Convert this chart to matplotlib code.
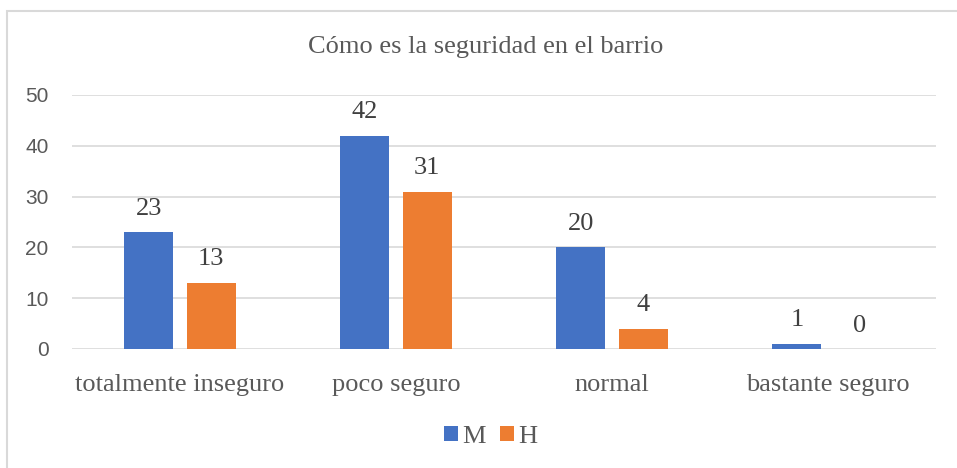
import matplotlib
matplotlib.use("Agg")
import matplotlib.pyplot as plt
import numpy as np
from matplotlib.patches import Rectangle

categories = ["totalmente inseguro", "poco seguro", "normal", "bastante seguro"]
series_names = ["M", "H"]
values_M = [23, 42, 20, 1]
values_H = [13, 31, 4, 0]
y_ticks = [0, 10, 20, 30, 40, 50]
title = "Cómo es la seguridad en el barrio"

colors = ["#4472C4", "#ED7D31"]
serif = ["Liberation Serif", "DejaVu Serif"]
sans = ["Liberation Sans", "DejaVu Sans"]

W, H = 957, 468
fig = plt.figure(figsize=(W / 100, H / 100), dpi=100)
fig.patch.set_facecolor("white")

# chart border (only top and left visible in reference)
fig.add_artist(Rectangle((7 / W, -0.1), 1.2, (H - 11) / H + 0.1,
                         transform=fig.transFigure, fill=False,
                         edgecolor="#D9D9D9", linewidth=1.5, clip_on=False))

ax = fig.add_axes([72 / W, (H - 349) / H, (936 - 72) / W, (349 - 95) / H])
x = np.arange(len(categories))
bw = 0.227
off = 0.144
b1 = ax.bar(x - off, values_M, bw, color=colors[0], label=series_names[0], zorder=3)
b2 = ax.bar(x + off, values_H, bw, color=colors[1], label=series_names[1], zorder=3)

for bars, vals in ((b1, values_M), (b2, values_H)):
    for rect, v in zip(bars, vals):
        ax.annotate(str(v), (rect.get_x() + rect.get_width() / 2, v),
                    xytext=(0, 9), textcoords="offset points",
                    ha="center", va="bottom", fontsize=19,
                    family=serif, color="#404040")

ax.set_xlim(-0.5, len(categories) - 0.5)
ax.set_ylim(0, 50)
ax.set_yticks(y_ticks)
ax.set_xticks(x)
ax.set_xticklabels(categories, family=serif, fontsize=19, color="#595959")
for lab in ax.get_yticklabels():
    lab.set_family(sans)
    lab.set_fontsize(15)
    lab.set_color("#595959")
ax.tick_params(axis="y", length=0, pad=17)
ax.tick_params(axis="x", length=0, pad=18)
for s in ax.spines.values():
    s.set_visible(False)
ax.yaxis.grid(True, color="#D9D9D9", linewidth=1.2, zorder=0)
ax.set_axisbelow(True)

fig.text(486 / W, (H - 47) / H, title, ha="center", va="center",
         family=serif, fontsize=19, color="#595959")

leg = fig.legend(handles=[b1, b2], labels=series_names, loc="center",
                 bbox_to_anchor=(491 / W, (H - 437) / H), ncol=2, frameon=False,
                 prop={"family": serif, "size": 19}, handlelength=0.53,
                 handleheight=0.53, handletextpad=0.15, columnspacing=0.55)
for t in leg.get_texts():
    t.set_color("#595959")

fig.savefig("out.png", dpi=100, facecolor="white")
